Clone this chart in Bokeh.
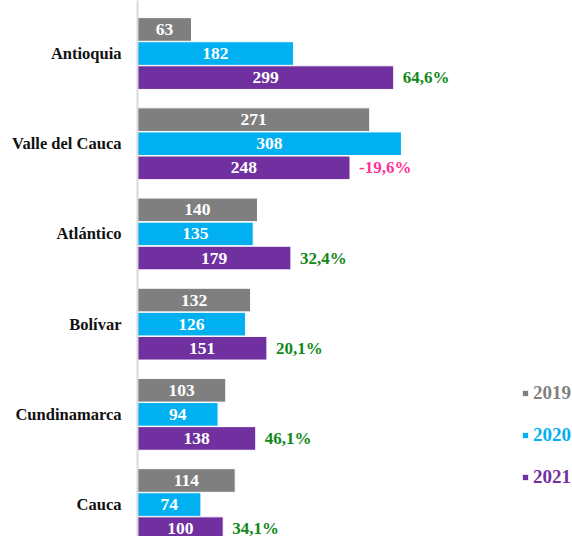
from bokeh.plotting import figure
from bokeh.models import Range1d, FixedTicker, ColumnDataSource, Legend, LegendItem
from bokeh.transform import dodge
from bokeh.core.properties import value
from bokeh.embed import file_html
from bokeh.resources import INLINE

states = ["Antioquia", "Valle del Cauca", "Atlántico", "Bolívar", "Cundinamarca", "Cauca"]
v2019 = [63, 271, 140, 132, 103, 114]
v2020 = [182, 308, 135, 126, 94, 74]
v2021 = [299, 248, 179, 151, 138, 100]
changes = ["64,6%", "-19,6%", "32,4%", "20,1%", "46,1%", "34,1%"]
years = ["2019", "2020", "2021"]
colors = ["#7f7f7f", "#00b0f0", "#7030a0"]

FONT = "Liberation Serif"
POS, NEG = "#12881a", "#ff3399"

idx = list(range(len(states)))
src = ColumnDataSource(dict(
    idx=idx,
    v2019=v2019, v2020=v2020, v2021=v2021,
    m2019=[v / 2 for v in v2019], m2020=[v / 2 for v in v2020], m2021=[v / 2 for v in v2021],
    t2019=[str(v) for v in v2019], t2020=[str(v) for v in v2020], t2021=[str(v) for v in v2021],
    chg=changes,
    chg_color=[NEG if c.startswith("-") else POS for c in changes],
))

p = figure(width=572, height=536, output_backend="svg", toolbar_location=None,
           x_range=Range1d(0, 507.6), y_range=Range1d(5.354, -0.588),
           x_axis_location=None,
           min_border_left=137, min_border_right=0, min_border_top=0, min_border_bottom=0)
p.outline_line_color = None
p.xgrid.visible = False
p.ygrid.visible = False

offsets = [-0.267, 0.0, 0.267]
bar_h = 0.262
renderers = []
for yr, col, off in zip(years, colors, offsets):
    r = p.hbar(y=dodge("idx", off), left=0, right="v" + yr, height=bar_h, source=src,
               fill_color=col, line_color="white", line_width=1)
    renderers.append(r)
    p.text(x="m" + yr, y=dodge("idx", off), text="t" + yr, source=src,
           text_color="white", text_font=value(FONT), text_font_style="bold",
           text_font_size="17.5px", text_align="center", text_baseline="middle")

p.text(x="v2021", y=dodge("idx", offsets[2]), text="chg", source=src, x_offset=9,
       text_color="chg_color", text_font=value(FONT), text_font_style="bold",
       text_font_size="17px", text_align="left", text_baseline="middle")

ax = p.yaxis[0]
ax.ticker = FixedTicker(ticks=idx)
ax.major_label_overrides = {i: s for i, s in zip(idx, states)}
ax.major_tick_line_color = None
ax.minor_tick_line_color = None
ax.axis_line_color = "#d9d9d9"
ax.axis_line_width = 2
ax.major_label_standoff = 10
ax.major_label_text_font = FONT
ax.major_label_text_font_style = "bold"
ax.major_label_text_font_size = "16.5px"
ax.major_label_text_color = "#111111"

leg_y = [132, 90, 48]
for yr, col, r, ly in zip(years, colors, renderers, leg_y):
    leg = Legend(items=[LegendItem(label=yr, renderers=[r])], location=(384, ly),
                 padding=0, margin=0, border_line_color=None, background_fill_alpha=0,
                 glyph_width=8, glyph_height=8, label_height=8, label_standoff=4,
                 label_text_font=FONT, label_text_font_style="bold",
                 label_text_font_size="19px", label_text_color=col)
    p.add_layout(leg)

open("out.html", "w").write(file_html(p, INLINE))
